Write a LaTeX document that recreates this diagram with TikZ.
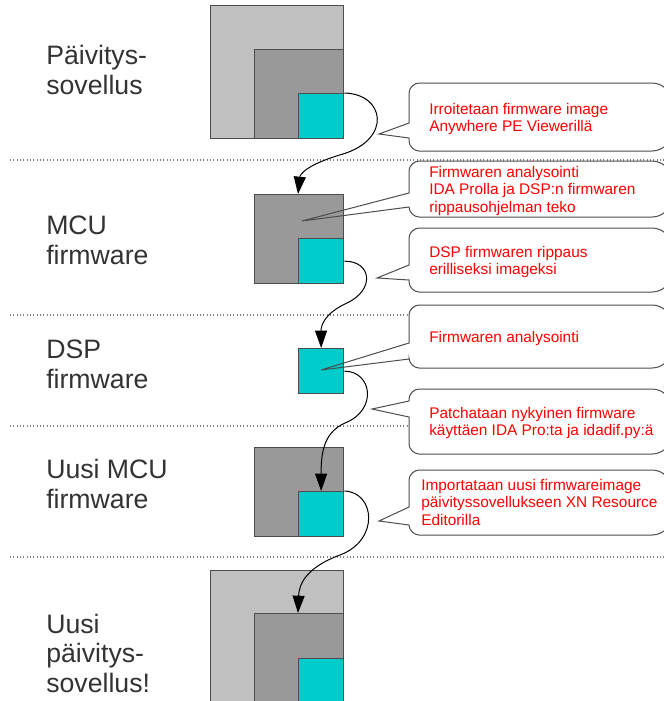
\documentclass[tikz,border=0pt]{standalone}
\usepackage{fontspec}
\setmainfont{Liberation Sans}
\usetikzlibrary{arrows.meta}
\definecolor{lgray}{HTML}{C0C0C0}
\definecolor{dgray}{HTML}{999999}
\definecolor{cyanbox}{HTML}{00CCCC}
\definecolor{edge}{HTML}{4D4D4D}
\definecolor{labelc}{HTML}{333333}
\definecolor{callred}{HTML}{FF0000}
\definecolor{sepc}{HTML}{808080}
\tikzset{
 boxbase/.style={draw=edge, line width=1pt, inner sep=0pt, anchor=north west},
 lbox/.style={boxbase, fill=lgray, minimum width=99.75pt, minimum height=99.75pt},
 dbox/.style={boxbase, fill=dgray, minimum width=66.75pt, minimum height=66.75pt},
 cbox/.style={boxbase, fill=cyanbox, minimum width=33.75pt, minimum height=33.75pt},
 sep/.style={draw=sepc, line width=0.8pt, dash pattern=on 0.8pt off 1.7pt},
 lbl/.style={anchor=base west, align=left, inner sep=0pt, text=labelc, font=\fontsize{20}{22}\selectfont},
 ctext/.style={anchor=base west, align=left, inner sep=0pt, text=callred, font=\fontsize{11.55}{13.1}\selectfont},
 calloutfill/.style={fill=white},
 callout/.style={draw=edge, line width=0.75pt},
 flow/.style={draw=black, line width=0.75pt, -{Triangle[length=13pt,width=9pt]}},
}
\newcommand\calloutpath[6]{%
 \path[#6] (#1) -- (409,#4) -- (409,#2+10) .. controls (409,#2+4.5) and (414.5,#2) .. (419,#2)
  -- (652,#2) .. controls (663,#2) and (672,#2+9) .. (672,#2+20)
  -- (672,#3-20) .. controls (672,#3-9) and (663,#3) .. (652,#3)
  -- (419,#3) .. controls (414.5,#3) and (409,#3-4.5) .. (409,#3-10) -- (409,#5) -- cycle;}
\begin{document}
\begin{tikzpicture}[x=0.75pt,y=-0.75pt]
\useasboundingbox (0,0) rectangle (664,701);
\clip (0,0) rectangle (664,701);
% separators
\draw[sep] (10,160) -- (664,160);
\draw[sep] (10,315) -- (664,315);
\draw[sep] (10,426) -- (664,426);
\draw[sep] (10,557) -- (664,557);
% callout tips
\coordinate (t1) at (379,134);
\coordinate (t2) at (302,221);
\coordinate (t3) at (377,278);
\coordinate (t4) at (321,370);
\coordinate (t5) at (372,409);
\coordinate (t6) at (379,521);
% callout backgrounds
\calloutpath{t1}{83}{151}{123}{138}{calloutfill}
\calloutpath{t2}{161}{217}{193}{207}{calloutfill}
\calloutpath{t3}{228}{292}{265}{280}{calloutfill}
\calloutpath{t4}{305}{368}{343}{359}{calloutfill}
\calloutpath{t5}{389}{454}{401}{417}{calloutfill}
\calloutpath{t6}{470}{535}{507}{525}{calloutfill}
% labels (anchor = baseline of last line)
\node[lbl] (l1) at (46,94) {Päivitys-\\sovellus};
\node[lbl] (l2) at (46,264) {MCU\\firmware};
\node[lbl] (l3) at (46,388) {DSP\\firmware};
\node[lbl] (l4) at (46,508) {Uusi MCU\\firmware};
\node[lbl] (l5) at (46,692) {Uusi\\päivitys-\\sovellus!};
% boxes
\node[lbox] (topL) at (210,5) {};
\node[dbox] (topD) at (254,49) {};
\node[cbox] (topC) at (298,93) {};
\node[dbox] (mcuD) at (254,194) {};
\node[cbox] (mcuC) at (298,238) {};
\node[cbox] (dspC) at (298,348) {};
\node[dbox] (umcuD) at (254,447) {};
\node[cbox] (umcuC) at (298,491) {};
\node[lbox] (newL) at (210,570) {};
\node[dbox] (newD) at (254,613) {};
\node[cbox] (newC) at (298,658) {};
% callout outlines
\calloutpath{t1}{83}{151}{123}{138}{callout}
\calloutpath{t2}{161}{217}{193}{207}{callout}
\calloutpath{t3}{228}{292}{265}{280}{callout}
\calloutpath{t4}{305}{368}{343}{359}{callout}
\calloutpath{t5}{389}{454}{401}{417}{callout}
\calloutpath{t6}{470}{535}{507}{525}{callout}
% callout texts (anchor = baseline of last line)
\node[ctext] (c1) at (429,131.5) {Irroitetaan firmware image\\Anywhere PE Viewerillä};
\node[ctext] (c2) at (429,212) {Firmwaren analysointi\\IDA Prolla ja DSP:n firmwaren\\rippausohjelman teko};
\node[ctext] (c3) at (429,274.5) {DSP firmwaren rippaus\\erilliseksi imageksi};
\node[ctext] (c4) at (429,342) {Firmwaren analysointi};
\node[ctext] (c5) at (429,435.5) {Patchataan nykyinen firmware\\käyttäen IDA Pro:ta ja idadif.py:ä};
\node[ctext] (c6) at (421,525) {Importataan uusi firmwareimage\\päivityssovellukseen XN Resource\\Editorilla};
% flow arrows
\coordinate (m1) at (343,154);
\coordinate (m2) at (347,303);
\coordinate (m3) at (345,423);
\coordinate (m4) at (340,555);
\draw[flow] (topC.north east) .. controls (385,94) and (392,139) .. (m1) .. controls (305,165) and (300,175) .. (mcuC.west |- mcuD.north);
\draw[flow] (mcuC.east) .. controls (372,261) and (375,290) .. (m2) .. controls (325,313) and (321,325) .. (dspC.north);
\draw[flow] (dspC.east) .. controls (372,371) and (378,410) .. (m3) .. controls (325,432) and (321,450) .. (umcuC.north);
\draw[flow] (umcuC.north east) .. controls (375,492) and (380,540) .. (m4) .. controls (305,568) and (299,585) .. (newC.west |- newD.north);
\end{tikzpicture}
\end{document}
